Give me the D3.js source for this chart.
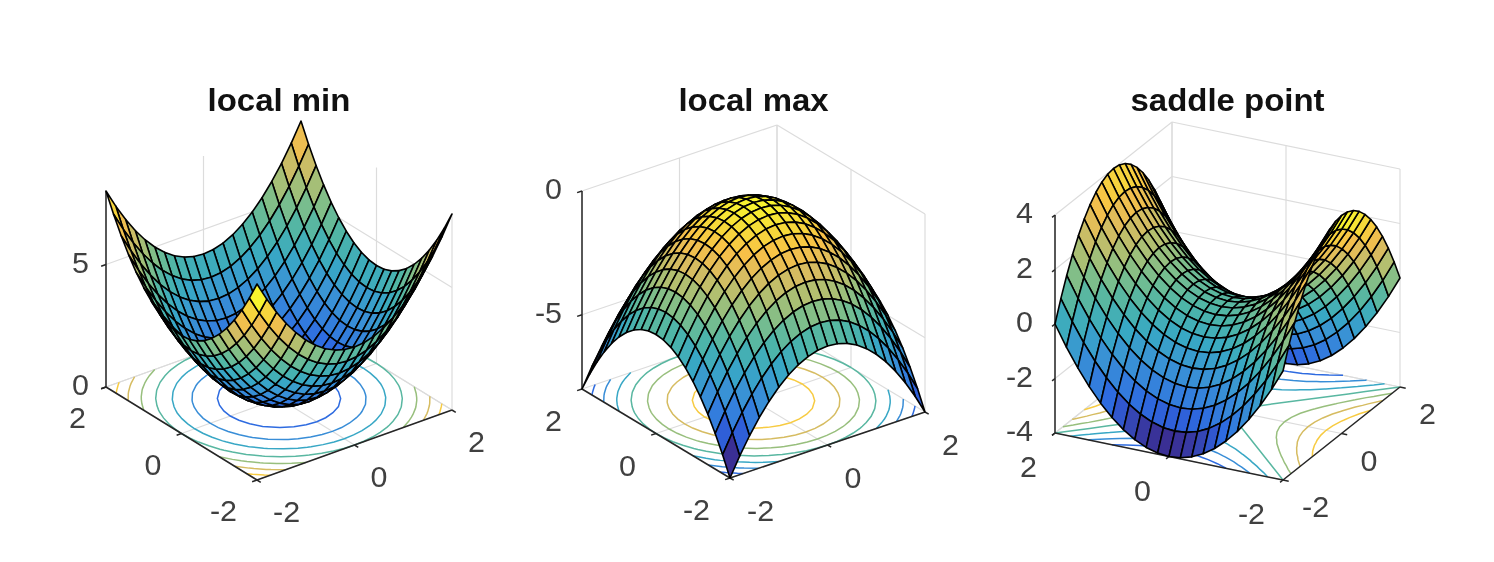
<!DOCTYPE html>
<html>
<head>
<meta charset="utf-8">
<script src="https://cdn.jsdelivr.net/npm/d3@7"></script>
<style>
  html, body { margin: 0; background: #fff; }
  svg { display: block; filter: blur(0.6px); }
  text { font-family: "Liberation Sans", Arial, sans-serif; }
</style>
</head>
<body>
<div id="chart"></div>
<script>
// grid shared by all three surfaces
const gridValues = [-2, -1.8, -1.6, -1.4, -1.2, -1, -0.8, -0.6, -0.4, -0.2, 0, 0.2, 0.4, 0.6, 0.8, 1, 1.2, 1.4, 1.6, 1.8, 2];
const axisTicks = [-2, 0, 2];

// rows run along y, columns along x
const zLocalMin = [
  [8,7.24,6.56,5.96,5.44,5,4.64,4.36,4.16,4.04,4,4.04,4.16,4.36,4.64,5,5.44,5.96,6.56,7.24,8],
  [7.24,6.48,5.8,5.2,4.68,4.24,3.88,3.6,3.4,3.28,3.24,3.28,3.4,3.6,3.88,4.24,4.68,5.2,5.8,6.48,7.24],
  [6.56,5.8,5.12,4.52,4,3.56,3.2,2.92,2.72,2.6,2.56,2.6,2.72,2.92,3.2,3.56,4,4.52,5.12,5.8,6.56],
  [5.96,5.2,4.52,3.92,3.4,2.96,2.6,2.32,2.12,2,1.96,2,2.12,2.32,2.6,2.96,3.4,3.92,4.52,5.2,5.96],
  [5.44,4.68,4,3.4,2.88,2.44,2.08,1.8,1.6,1.48,1.44,1.48,1.6,1.8,2.08,2.44,2.88,3.4,4,4.68,5.44],
  [5,4.24,3.56,2.96,2.44,2,1.64,1.36,1.16,1.04,1,1.04,1.16,1.36,1.64,2,2.44,2.96,3.56,4.24,5],
  [4.64,3.88,3.2,2.6,2.08,1.64,1.28,1,0.8,0.68,0.64,0.68,0.8,1,1.28,1.64,2.08,2.6,3.2,3.88,4.64],
  [4.36,3.6,2.92,2.32,1.8,1.36,1,0.72,0.52,0.4,0.36,0.4,0.52,0.72,1,1.36,1.8,2.32,2.92,3.6,4.36],
  [4.16,3.4,2.72,2.12,1.6,1.16,0.8,0.52,0.32,0.2,0.16,0.2,0.32,0.52,0.8,1.16,1.6,2.12,2.72,3.4,4.16],
  [4.04,3.28,2.6,2,1.48,1.04,0.68,0.4,0.2,0.08,0.04,0.08,0.2,0.4,0.68,1.04,1.48,2,2.6,3.28,4.04],
  [4,3.24,2.56,1.96,1.44,1,0.64,0.36,0.16,0.04,0,0.04,0.16,0.36,0.64,1,1.44,1.96,2.56,3.24,4],
  [4.04,3.28,2.6,2,1.48,1.04,0.68,0.4,0.2,0.08,0.04,0.08,0.2,0.4,0.68,1.04,1.48,2,2.6,3.28,4.04],
  [4.16,3.4,2.72,2.12,1.6,1.16,0.8,0.52,0.32,0.2,0.16,0.2,0.32,0.52,0.8,1.16,1.6,2.12,2.72,3.4,4.16],
  [4.36,3.6,2.92,2.32,1.8,1.36,1,0.72,0.52,0.4,0.36,0.4,0.52,0.72,1,1.36,1.8,2.32,2.92,3.6,4.36],
  [4.64,3.88,3.2,2.6,2.08,1.64,1.28,1,0.8,0.68,0.64,0.68,0.8,1,1.28,1.64,2.08,2.6,3.2,3.88,4.64],
  [5,4.24,3.56,2.96,2.44,2,1.64,1.36,1.16,1.04,1,1.04,1.16,1.36,1.64,2,2.44,2.96,3.56,4.24,5],
  [5.44,4.68,4,3.4,2.88,2.44,2.08,1.8,1.6,1.48,1.44,1.48,1.6,1.8,2.08,2.44,2.88,3.4,4,4.68,5.44],
  [5.96,5.2,4.52,3.92,3.4,2.96,2.6,2.32,2.12,2,1.96,2,2.12,2.32,2.6,2.96,3.4,3.92,4.52,5.2,5.96],
  [6.56,5.8,5.12,4.52,4,3.56,3.2,2.92,2.72,2.6,2.56,2.6,2.72,2.92,3.2,3.56,4,4.52,5.12,5.8,6.56],
  [7.24,6.48,5.8,5.2,4.68,4.24,3.88,3.6,3.4,3.28,3.24,3.28,3.4,3.6,3.88,4.24,4.68,5.2,5.8,6.48,7.24],
  [8,7.24,6.56,5.96,5.44,5,4.64,4.36,4.16,4.04,4,4.04,4.16,4.36,4.64,5,5.44,5.96,6.56,7.24,8]
];

const zLocalMax = [
  [-8,-7.24,-6.56,-5.96,-5.44,-5,-4.64,-4.36,-4.16,-4.04,-4,-4.04,-4.16,-4.36,-4.64,-5,-5.44,-5.96,-6.56,-7.24,-8],
  [-7.24,-6.48,-5.8,-5.2,-4.68,-4.24,-3.88,-3.6,-3.4,-3.28,-3.24,-3.28,-3.4,-3.6,-3.88,-4.24,-4.68,-5.2,-5.8,-6.48,-7.24],
  [-6.56,-5.8,-5.12,-4.52,-4,-3.56,-3.2,-2.92,-2.72,-2.6,-2.56,-2.6,-2.72,-2.92,-3.2,-3.56,-4,-4.52,-5.12,-5.8,-6.56],
  [-5.96,-5.2,-4.52,-3.92,-3.4,-2.96,-2.6,-2.32,-2.12,-2,-1.96,-2,-2.12,-2.32,-2.6,-2.96,-3.4,-3.92,-4.52,-5.2,-5.96],
  [-5.44,-4.68,-4,-3.4,-2.88,-2.44,-2.08,-1.8,-1.6,-1.48,-1.44,-1.48,-1.6,-1.8,-2.08,-2.44,-2.88,-3.4,-4,-4.68,-5.44],
  [-5,-4.24,-3.56,-2.96,-2.44,-2,-1.64,-1.36,-1.16,-1.04,-1,-1.04,-1.16,-1.36,-1.64,-2,-2.44,-2.96,-3.56,-4.24,-5],
  [-4.64,-3.88,-3.2,-2.6,-2.08,-1.64,-1.28,-1,-0.8,-0.68,-0.64,-0.68,-0.8,-1,-1.28,-1.64,-2.08,-2.6,-3.2,-3.88,-4.64],
  [-4.36,-3.6,-2.92,-2.32,-1.8,-1.36,-1,-0.72,-0.52,-0.4,-0.36,-0.4,-0.52,-0.72,-1,-1.36,-1.8,-2.32,-2.92,-3.6,-4.36],
  [-4.16,-3.4,-2.72,-2.12,-1.6,-1.16,-0.8,-0.52,-0.32,-0.2,-0.16,-0.2,-0.32,-0.52,-0.8,-1.16,-1.6,-2.12,-2.72,-3.4,-4.16],
  [-4.04,-3.28,-2.6,-2,-1.48,-1.04,-0.68,-0.4,-0.2,-0.08,-0.04,-0.08,-0.2,-0.4,-0.68,-1.04,-1.48,-2,-2.6,-3.28,-4.04],
  [-4,-3.24,-2.56,-1.96,-1.44,-1,-0.64,-0.36,-0.16,-0.04,0,-0.04,-0.16,-0.36,-0.64,-1,-1.44,-1.96,-2.56,-3.24,-4],
  [-4.04,-3.28,-2.6,-2,-1.48,-1.04,-0.68,-0.4,-0.2,-0.08,-0.04,-0.08,-0.2,-0.4,-0.68,-1.04,-1.48,-2,-2.6,-3.28,-4.04],
  [-4.16,-3.4,-2.72,-2.12,-1.6,-1.16,-0.8,-0.52,-0.32,-0.2,-0.16,-0.2,-0.32,-0.52,-0.8,-1.16,-1.6,-2.12,-2.72,-3.4,-4.16],
  [-4.36,-3.6,-2.92,-2.32,-1.8,-1.36,-1,-0.72,-0.52,-0.4,-0.36,-0.4,-0.52,-0.72,-1,-1.36,-1.8,-2.32,-2.92,-3.6,-4.36],
  [-4.64,-3.88,-3.2,-2.6,-2.08,-1.64,-1.28,-1,-0.8,-0.68,-0.64,-0.68,-0.8,-1,-1.28,-1.64,-2.08,-2.6,-3.2,-3.88,-4.64],
  [-5,-4.24,-3.56,-2.96,-2.44,-2,-1.64,-1.36,-1.16,-1.04,-1,-1.04,-1.16,-1.36,-1.64,-2,-2.44,-2.96,-3.56,-4.24,-5],
  [-5.44,-4.68,-4,-3.4,-2.88,-2.44,-2.08,-1.8,-1.6,-1.48,-1.44,-1.48,-1.6,-1.8,-2.08,-2.44,-2.88,-3.4,-4,-4.68,-5.44],
  [-5.96,-5.2,-4.52,-3.92,-3.4,-2.96,-2.6,-2.32,-2.12,-2,-1.96,-2,-2.12,-2.32,-2.6,-2.96,-3.4,-3.92,-4.52,-5.2,-5.96],
  [-6.56,-5.8,-5.12,-4.52,-4,-3.56,-3.2,-2.92,-2.72,-2.6,-2.56,-2.6,-2.72,-2.92,-3.2,-3.56,-4,-4.52,-5.12,-5.8,-6.56],
  [-7.24,-6.48,-5.8,-5.2,-4.68,-4.24,-3.88,-3.6,-3.4,-3.28,-3.24,-3.28,-3.4,-3.6,-3.88,-4.24,-4.68,-5.2,-5.8,-6.48,-7.24],
  [-8,-7.24,-6.56,-5.96,-5.44,-5,-4.64,-4.36,-4.16,-4.04,-4,-4.04,-4.16,-4.36,-4.64,-5,-5.44,-5.96,-6.56,-7.24,-8]
];

const zSaddle = [
  [0,0.76,1.44,2.04,2.56,3,3.36,3.64,3.84,3.96,4,3.96,3.84,3.64,3.36,3,2.56,2.04,1.44,0.76,0],
  [-0.76,0,0.68,1.28,1.8,2.24,2.6,2.88,3.08,3.2,3.24,3.2,3.08,2.88,2.6,2.24,1.8,1.28,0.68,0,-0.76],
  [-1.44,-0.68,0,0.6,1.12,1.56,1.92,2.2,2.4,2.52,2.56,2.52,2.4,2.2,1.92,1.56,1.12,0.6,0,-0.68,-1.44],
  [-2.04,-1.28,-0.6,0,0.52,0.96,1.32,1.6,1.8,1.92,1.96,1.92,1.8,1.6,1.32,0.96,0.52,0,-0.6,-1.28,-2.04],
  [-2.56,-1.8,-1.12,-0.52,0,0.44,0.8,1.08,1.28,1.4,1.44,1.4,1.28,1.08,0.8,0.44,0,-0.52,-1.12,-1.8,-2.56],
  [-3,-2.24,-1.56,-0.96,-0.44,0,0.36,0.64,0.84,0.96,1,0.96,0.84,0.64,0.36,0,-0.44,-0.96,-1.56,-2.24,-3],
  [-3.36,-2.6,-1.92,-1.32,-0.8,-0.36,0,0.28,0.48,0.6,0.64,0.6,0.48,0.28,0,-0.36,-0.8,-1.32,-1.92,-2.6,-3.36],
  [-3.64,-2.88,-2.2,-1.6,-1.08,-0.64,-0.28,0,0.2,0.32,0.36,0.32,0.2,0,-0.28,-0.64,-1.08,-1.6,-2.2,-2.88,-3.64],
  [-3.84,-3.08,-2.4,-1.8,-1.28,-0.84,-0.48,-0.2,0,0.12,0.16,0.12,0,-0.2,-0.48,-0.84,-1.28,-1.8,-2.4,-3.08,-3.84],
  [-3.96,-3.2,-2.52,-1.92,-1.4,-0.96,-0.6,-0.32,-0.12,0,0.04,0,-0.12,-0.32,-0.6,-0.96,-1.4,-1.92,-2.52,-3.2,-3.96],
  [-4,-3.24,-2.56,-1.96,-1.44,-1,-0.64,-0.36,-0.16,-0.04,0,-0.04,-0.16,-0.36,-0.64,-1,-1.44,-1.96,-2.56,-3.24,-4],
  [-3.96,-3.2,-2.52,-1.92,-1.4,-0.96,-0.6,-0.32,-0.12,0,0.04,0,-0.12,-0.32,-0.6,-0.96,-1.4,-1.92,-2.52,-3.2,-3.96],
  [-3.84,-3.08,-2.4,-1.8,-1.28,-0.84,-0.48,-0.2,0,0.12,0.16,0.12,0,-0.2,-0.48,-0.84,-1.28,-1.8,-2.4,-3.08,-3.84],
  [-3.64,-2.88,-2.2,-1.6,-1.08,-0.64,-0.28,0,0.2,0.32,0.36,0.32,0.2,0,-0.28,-0.64,-1.08,-1.6,-2.2,-2.88,-3.64],
  [-3.36,-2.6,-1.92,-1.32,-0.8,-0.36,0,0.28,0.48,0.6,0.64,0.6,0.48,0.28,0,-0.36,-0.8,-1.32,-1.92,-2.6,-3.36],
  [-3,-2.24,-1.56,-0.96,-0.44,0,0.36,0.64,0.84,0.96,1,0.96,0.84,0.64,0.36,0,-0.44,-0.96,-1.56,-2.24,-3],
  [-2.56,-1.8,-1.12,-0.52,0,0.44,0.8,1.08,1.28,1.4,1.44,1.4,1.28,1.08,0.8,0.44,0,-0.52,-1.12,-1.8,-2.56],
  [-2.04,-1.28,-0.6,0,0.52,0.96,1.32,1.6,1.8,1.92,1.96,1.92,1.8,1.6,1.32,0.96,0.52,0,-0.6,-1.28,-2.04],
  [-1.44,-0.68,0,0.6,1.12,1.56,1.92,2.2,2.4,2.52,2.56,2.52,2.4,2.2,1.92,1.56,1.12,0.6,0,-0.68,-1.44],
  [-0.76,0,0.68,1.28,1.8,2.24,2.6,2.88,3.08,3.2,3.24,3.2,3.08,2.88,2.6,2.24,1.8,1.28,0.68,0,-0.76],
  [0,0.76,1.44,2.04,2.56,3,3.36,3.64,3.84,3.96,4,3.96,3.84,3.64,3.36,3,2.56,2.04,1.44,0.76,0]
];

const titles = ["local min", "local max", "saddle point"];
const zDomains = [[0, 8], [-8, 0], [-4, 4]];
const zTickValues = [[0, 5], [-5, 0], [-4, -2, 0, 2, 4]];
const contourLevels = [
  [1, 2, 3, 4, 5, 6, 7],
  [-7, -6, -5, -4, -3, -2, -1],
  [-3, -2, -1, 0, 1, 2, 3]
];
const surfaces = [zLocalMin, zLocalMax, zSaddle];

// parula as it looks in the picture, a bit softer than the real one
const parulaStops = ["#3A2F94", "#2F5FD8", "#2E6CE0", "#3480DC", "#3A94D4", "#38A8C4", "#4DB5A8", "#7BBE8C", "#AEBF72", "#DCBC5E", "#F8C048", "#F6D93A", "#F8F42E"];
const parulaAt = [0, 6, 8, 12, 18, 24, 30, 36, 42, 48, 53, 58, 63].map(d => d / 63);

// where each axes box sits on the page: the three floor corners and the box height
const layouts = [
  { left: [106, 387], front: [257, 480], right: [452, 410], height: 196, xLab: [16, 32], yLab: [-20, 31], zLab: -17 },
  { left: [582, 389], front: [730, 478], right: [925, 412], height: 198, xLab: [17, 33], yLab: [-20, 32], zLab: -20 },
  { left: [1055, 433], front: [1283, 480], right: [1400, 387], height: 218, xLab: [19, 27], yLab: [-18, 34], zLab: -22 }
];

const svg = d3.select("#chart").append("svg").attr("width", 1494).attr("height", 562);
const AXIS = "#262626";
const GRID = "#dcdcdc";
const TEXT = "#404040";
const TICK_STRETCH = 1.05; // reference text is a little wider than it is tall

titles.forEach((title, p) => drawPanel(p, title));

function tickLabel(g, x, y, anchor, label) {
  g.append("text")
    .attr("transform", `translate(${x},${y}) scale(${TICK_STRETCH},1)`)
    .attr("dy", "0.36em")
    .attr("text-anchor", anchor)
    .attr("font-size", 29)
    .attr("fill", TEXT)
    .text(label);
}

function drawPanel(p, title) {
  const L = layouts[p];
  const z = surfaces[p];
  const zDom = zDomains[p];
  const g = svg.append("g");

  const xToX = d3.scaleLinear().domain([-2, 2]).range([0, L.right[0] - L.front[0]]);
  const xToY = d3.scaleLinear().domain([-2, 2]).range([0, L.right[1] - L.front[1]]);
  const yToX = d3.scaleLinear().domain([-2, 2]).range([0, L.left[0] - L.front[0]]);
  const yToY = d3.scaleLinear().domain([-2, 2]).range([0, L.left[1] - L.front[1]]);
  const zToY = d3.scaleLinear().domain(zDom).range([0, -L.height]);
  const project = (x, y, v) => [L.front[0] + xToX(x) + yToX(y), L.front[1] + xToY(x) + yToY(y) + zToY(v)];

  const color = d3.scaleLinear()
    .domain(parulaAt.map(t => zDom[0] + t * (zDom[1] - zDom[0])))
    .range(parulaStops)
    .clamp(true);

  const seg = (a, b, stroke, width) => g.append("line")
    .attr("x1", a[0]).attr("y1", a[1]).attr("x2", b[0]).attr("y2", b[1])
    .attr("stroke", stroke).attr("stroke-width", width);

  // grid on the floor and on the two back walls
  const [z0, z1] = zDom;
  axisTicks.forEach(t => {
    seg(project(t, -2, z0), project(t, 2, z0), GRID, 1.2);
    seg(project(-2, t, z0), project(2, t, z0), GRID, 1.2);
    seg(project(t, 2, z0), project(t, 2, z1), GRID, 1.2);
    seg(project(2, t, z0), project(2, t, z1), GRID, 1.2);
  });
  zTickValues[p].forEach(t => {
    seg(project(-2, 2, t), project(2, 2, t), GRID, 1.2);
    seg(project(2, 2, t), project(2, -2, t), GRID, 1.2);
  });

  // contours on the floor
  const flat = z.flat();
  const n = gridValues.length;
  const cellToData = d3.scaleLinear().domain([0.5, n - 0.5]).range([-2, 2]);
  const inside = d => d[0] > 0 && d[0] < n && d[1] > 0 && d[1] < n;
  const contourLine = d3.line()
    .defined(inside)
    .x(d => project(cellToData(d[0]), cellToData(d[1]), z0)[0])
    .y(d => project(cellToData(d[0]), cellToData(d[1]), z0)[1]);
  const contours = d3.contours().size([n, n]).thresholds(contourLevels[p])(flat);
  g.append("g").attr("fill", "none").attr("stroke-width", 1.5)
    .selectAll("path")
    .data(contours)
    .join("path")
    .attr("stroke", d => color(d.value))
    .attr("d", d => d.coordinates.flatMap(poly => poly.map(ring => contourLine(ring) || "")).join(""));

  // axis lines and ticks
  seg(project(-2, 2, z0), project(-2, -2, z0), AXIS, 1.5);
  seg(project(-2, -2, z0), project(2, -2, z0), AXIS, 1.5);
  seg(project(-2, 2, z0), project(-2, 2, z1), AXIS, 1.5);

  axisTicks.forEach(t => {
    const a = project(t, -2, z0);
    seg(a, project(t, -2.1, z0), AXIS, 1.5);
    tickLabel(g, a[0] + L.xLab[0], a[1] + L.xLab[1], "start", t);
    const b = project(-2, t, z0);
    seg(b, project(-2.1, t, z0), AXIS, 1.5);
    tickLabel(g, b[0] + L.yLab[0], b[1] + L.yLab[1], "end", t);
  });
  zTickValues[p].forEach(t => {
    const a = project(-2, 2, t);
    seg(a, project(-2.1, 2, t), AXIS, 1.5);
    tickLabel(g, a[0] + L.zLab, a[1] - 2, "end", t);
  });

  // surface cells, far corner first so the near ones paint over them
  const cells = [];
  for (let j = n - 2; j >= 0; j--) {
    for (let i = n - 2; i >= 0; i--) cells.push({ i, j });
  }
  const cellPath = d3.line().curve(d3.curveLinearClosed);
  g.append("g").attr("stroke", "#000").attr("stroke-width", 1.6).attr("stroke-linejoin", "round")
    .selectAll("path")
    .data(cells)
    .join("path")
    .attr("fill", d => color(z[d.j][d.i]))
    .attr("d", d => cellPath([
      project(gridValues[d.i], gridValues[d.j], z[d.j][d.i]),
      project(gridValues[d.i + 1], gridValues[d.j], z[d.j][d.i + 1]),
      project(gridValues[d.i + 1], gridValues[d.j + 1], z[d.j + 1][d.i + 1]),
      project(gridValues[d.i], gridValues[d.j + 1], z[d.j + 1][d.i])
    ]));

  g.append("text")
    .attr("transform", `translate(${(L.left[0] + L.right[0]) / 2},111) scale(1.03,1)`)
    .attr("text-anchor", "middle")
    .attr("font-size", 32)
    .attr("font-weight", "bold")
    .attr("fill", "#111")
    .text(title);
}
</script>
</body>
</html>
